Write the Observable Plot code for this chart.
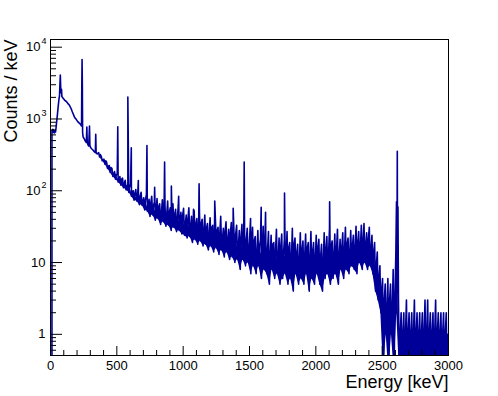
<!DOCTYPE html>
<html><head><meta charset="utf-8">
<script src="https://cdn.jsdelivr.net/npm/d3@7"></script>
<script src="https://cdn.jsdelivr.net/npm/@observablehq/plot@0.6"></script>
<style>html,body{margin:0;padding:0;background:#fff} svg{display:block}</style>
</head><body><div id="chart"></div>
<script>
// Low-energy part of the spectrum, read point by point (keV, counts/keV)
const lowEnergy = [0, 11, 11, 14, 18, 22, 26, 30, 34, 38, 42, 46, 52, 58, 64, 68, 71, 74, 77, 80, 83, 86, 90, 95, 100, 110, 120, 130, 143, 155, 165, 181, 195, 205, 219, 228, 234, 236, 238, 240, 242, 246, 252, 258, 264, 270, 274, 277, 282, 288, 294, 297, 302, 310, 320, 330, 338, 341, 344, 352];
const lowCounts = [0, 0, 700, 660, 720, 650, 700, 640, 690, 660, 760, 900, 1150, 1500, 1900, 2100, 3000, 4100, 2700, 2300, 2600, 2050, 2000, 1950, 1900, 1800, 1750, 1650, 1550, 1400, 1250, 1060, 980, 920, 870, 830, 800, 3000, 6750, 3000, 650, 560, 540, 510, 490, 470, 770, 470, 440, 420, 800, 430, 400, 385, 370, 350, 340, 610, 340, 325];

// Above 360 keV: the noisy histogram, three readings per 20 keV column (top, bottom, middle)
const bandStart = 360, bandStep = 20;
const bandHigh = [
  340, 300, 275, 250, 225, 205, 185, 170, 158, 150,
  140, 122, 115, 100, 104, 88, 95, 80, 90, 76,
  84, 70, 78, 66, 75, 62, 72, 58, 66, 55,
  62, 50, 57, 46, 58, 44, 52, 41, 48, 40,
  46, 35, 42, 33, 40, 31, 44, 30, 37, 29,
  36, 26, 33, 28, 34, 24, 30, 26, 31, 23,
  28, 21, 32, 20, 27, 24, 19, 29, 22, 25,
  21, 27, 19, 30, 22, 18, 26, 20, 25, 19,
  27, 19, 24, 21, 18, 26, 23, 30, 20, 25,
  29, 21, 26, 31, 22, 28, 24, 32, 27, 33,
  35, 26, 31, 24, 19, 14, 9, 6, 5, 6,
  5, 8, 13, 3, 2, 2, 3, 2, 2, 3,
  2, 2, 2, 3, 3, 2, 2, 3, 2, 2,
  2, 2
];
const bandLow = [
  295, 262, 235, 205, 180, 158, 145, 132, 120, 110,
  103, 95, 84, 74, 72, 64, 63, 54, 52, 44,
  46, 39, 41, 34, 37, 32, 33, 28, 31, 27,
  28, 25, 24, 22, 23, 19, 21, 18, 20, 17,
  18, 15, 17, 14, 16, 13, 15, 12, 14, 11,
  12, 10, 11, 8, 11, 9, 10, 7, 9, 7,
  9, 6, 8, 7, 5, 8, 6, 7, 5, 6,
  7, 5, 6, 4, 7, 5, 6, 5, 7, 4,
  6, 5, 7, 5, 4, 6, 7, 5, 6, 7,
  5, 8, 6, 8, 7, 9, 8, 7, 10, 8,
  10, 8, 9, 7, 4, 3, 2, 0, 1, 0,
  1, 0, 2, 0, 0, 0, 0, 0, 0, 0,
  0, 0, 0, 0, 0, 0, 0, 0, 0, 0,
  0, 0
];
const bandMid = [
  320, 270, 262, 220, 210, 170, 168, 145, 145, 125,
  115, 118, 95, 92, 78, 85, 70, 74, 60, 68,
  62, 52, 60, 48, 55, 45, 50, 42, 46, 40,
  38, 45, 33, 40, 30, 36, 34, 26, 35, 27,
  30, 24, 31, 22, 28, 25, 21, 27, 19, 26,
  18, 25, 16, 22, 15, 21, 14, 19, 20, 13,
  17, 13, 20, 15, 12, 18, 14, 11, 17, 13,
  12, 16, 11, 18, 13, 10, 15, 12, 16, 11,
  14, 11, 16, 12, 10, 15, 13, 17, 12, 15,
  12, 16, 14, 18, 13, 17, 15, 19, 16, 20,
  17, 21, 15, 14, 9, 6, 4, 3, 2, 3,
  2, 3, 6, 1, 1, 1, 1, 1, 1, 1,
  1, 1, 1, 1, 1, 1, 1, 1, 1, 1,
  1, 1
];

// Photopeaks above 360 keV (keV, counts/keV at the top)
const peakEnergy = [507, 583, 609, 662, 727, 785, 860, 911, 966, 1078, 1120, 1238, 1377, 1460, 1508, 1588, 1621, 1764, 2104, 2608, 2614, 2619];
const peakCounts = [780, 2020, 398, 139, 427, 112, 251, 116, 84, 55, 125, 72, 57, 251, 41, 59, 50, 93, 70, 70, 354, 60];

const xTicks = [0, 500, 1000, 1500, 2000, 2500, 3000];
const yTickValues = [1, 10, 100, 1000, 10000];
const yTickBase = ["1", "10", "10", "10", "10"];
const yTickExp = ["", "", "2", "3", "4"];

const FLOOR = 0.3; // empty bins are drawn down to the bottom of the frame
// build the polyline
const pts = [];
lowEnergy.forEach((e, i) => pts.push({e, c: lowCounts[i]}));
bandHigh.forEach((h, i) => {
  const e0 = bandStart + i * bandStep;
  pts.push({e: e0 + 3, c: h});
  pts.push({e: e0 + 10, c: bandLow[i]});
  pts.push({e: e0 + 16, c: bandMid[i]});
});
peakEnergy.forEach((e, i) => pts.push({e, c: peakCounts[i]}));
pts.sort((a, b) => a.e - b.e);
const data = pts.map(d => ({e: d.e, c: Math.max(d.c, FLOOR)}));
// dense core of the noisy band (between bottom and middle readings)
const core = bandLow.map((lo, i) => ({
  e: bandStart + i * bandStep + 10,
  lo: Math.max(lo, FLOOR),
  mid: Math.max(bandMid[i], FLOOR)
}));

const W = 498, H = 396, mL = 50, mR = 50, mT = 39, mB = 41;
const plotH = H - mT - mB, plotW = W - mL - mR;
const yDomain = [0.507, 12800];

const xMinor = d3.range(100, 3000, 100).filter(v => v % 500 !== 0);
const yMinor = [];
for (let k = -1; k <= 3; k++) for (let m = 2; m <= 9; m++) {
  const v = m * Math.pow(10, k);
  if (v >= yDomain[0] && v <= yDomain[1]) yMinor.push(v);
}
const idxPlain = yTickExp.map((s, i) => i).filter(i => yTickExp[i] === "");
const idxExp = yTickExp.map((s, i) => i).filter(i => yTickExp[i] !== "");

const blue = "#000099";
const font = "'Liberation Sans', Arial, Helvetica, sans-serif";
const chart = Plot.plot({
  width: W, height: H,
  marginLeft: mL, marginRight: mR, marginTop: mT, marginBottom: mB,
  style: {fontFamily: font, fontSize: "13px", background: "#fff", color: "black"},
  x: {domain: [0, 3000], axis: null},
  y: {type: "log", domain: yDomain, axis: null},
  marks: [
    Plot.areaY(core, {x: "e", y1: "lo", y2: "mid", fill: blue, clip: true}),
    Plot.line(data, {x: "e", y: "c", stroke: blue, strokeWidth: 1.6, clip: true}),
    Plot.ruleX(xMinor, {insetTop: plotH - 5, stroke: "black"}),
    Plot.ruleX(xTicks, {insetTop: plotH - 9, stroke: "black"}),
    Plot.ruleY(yMinor, {insetRight: plotW - 6, stroke: "black"}),
    Plot.ruleY(yTickValues, {insetRight: plotW - 12, stroke: "black"}),
    Plot.frame({stroke: "black"}),
    Plot.text(xTicks, {x: d => d, text: d => String(d), frameAnchor: "bottom", dy: 14, fontSize: 13, fill: "black"}),
    Plot.text(idxPlain, {y: i => yTickValues[i], text: i => yTickBase[i], frameAnchor: "left", textAnchor: "end", dx: -5, fontSize: 13, fill: "black"}),
    Plot.text(idxExp, {y: i => yTickValues[i], text: i => yTickBase[i], frameAnchor: "left", textAnchor: "end", dx: -10, fontSize: 13, fill: "black"}),
    Plot.text(idxExp, {y: i => yTickValues[i], text: i => yTickExp[i], frameAnchor: "left", textAnchor: "end", dx: -4, dy: -6, fontSize: 9, fill: "black"}),
    Plot.text(["Energy [keV]"], {frameAnchor: "bottom-right", textAnchor: "end", dy: 32, fontSize: 18, fill: "black"}),
    Plot.text(["Counts / keV"], {frameAnchor: "top-left", textAnchor: "end", rotate: -90, dx: -46, fontSize: 18, fill: "black"})
  ]
});
document.getElementById("chart").appendChild(chart);
</script>
</body></html>
